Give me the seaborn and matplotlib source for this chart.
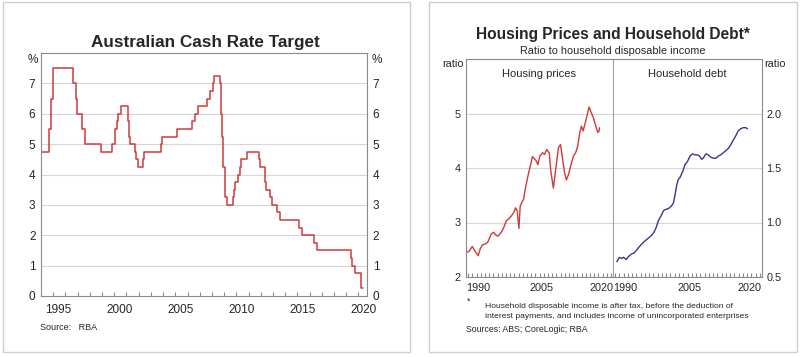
import pandas as pd
import numpy as np
from matplotlib import pyplot as plt
from matplotlib.patches import Rectangle
import seaborn as sns

# cash rate target: date of each change and the new rate
cash_dates = ['1994-01-01', '1994-08-17', '1994-10-24', '1994-12-14', '1996-07-31', '1996-11-06',
              '1996-12-11', '1997-05-23', '1997-07-30', '1998-12-02', '1999-11-03', '2000-02-02',
              '2000-04-05', '2000-05-03', '2000-08-02', '2001-02-07', '2001-03-07', '2001-04-04',
              '2001-09-05', '2001-10-03', '2001-12-05', '2002-05-08', '2002-06-05', '2003-11-05',
              '2003-12-03', '2005-03-02', '2006-05-03', '2006-08-02', '2006-11-08', '2007-08-08',
              '2007-11-07', '2008-02-06', '2008-03-05', '2008-09-03', '2008-10-08', '2008-11-05',
              '2008-12-03', '2009-02-04', '2009-04-08', '2009-10-07', '2009-11-04', '2009-12-02',
              '2010-03-03', '2010-04-07', '2010-05-05', '2010-11-03', '2011-11-02', '2011-12-07',
              '2012-05-02', '2012-06-06', '2012-10-03', '2012-12-05', '2013-05-08', '2013-08-07',
              '2015-02-04', '2015-05-06', '2016-05-04', '2016-08-03', '2019-06-05', '2019-07-03',
              '2019-10-02', '2020-03-04', '2020-03-20', '2020-05-06']
cash_rate = [4.75, 5.5, 6.5, 7.5, 7.0, 6.5,
             6.0, 5.5, 5.0, 4.75, 5.0, 5.5,
             5.75, 6.0, 6.25, 5.75, 5.25, 5.0,
             4.75, 4.5, 4.25, 4.5, 4.75, 5.0,
             5.25, 5.5, 5.75, 6.0, 6.25, 6.5,
             6.75, 7.0, 7.25, 7.0, 6.0, 5.25,
             4.25, 3.25, 3.0, 3.25, 3.5, 3.75,
             4.0, 4.25, 4.5, 4.75, 4.5, 4.25,
             3.75, 3.5, 3.25, 3.0, 2.75, 2.5,
             2.25, 2.0, 1.75, 1.5, 1.25, 1.0,
             0.75, 0.5, 0.25, 0.25]

# housing prices to disposable income
house_year = [1987.6, 1988.2, 1989.0, 1989.6, 1990.4, 1990.9, 1991.4, 1992.2, 1992.7, 1993.5,
              1994.1, 1994.6, 1995.1, 1995.9, 1996.5, 1997.1, 1997.7, 1998.3, 1998.9, 1999.3,
              1999.7, 2000.1, 2000.4, 2000.9, 2001.2, 2001.6, 2002.0, 2002.4, 2002.9, 2003.3,
              2003.9, 2004.3, 2004.6, 2005.1, 2005.7, 2006.2, 2006.7, 2007.3, 2007.7, 2008.3,
              2008.9, 2009.5, 2010.0, 2010.4, 2010.9, 2011.4, 2011.9, 2012.5, 2013.1, 2013.6,
              2014.1, 2014.6, 2015.0, 2015.4, 2015.8, 2016.4, 2016.8, 2017.3, 2017.8, 2018.4,
              2018.9, 2019.2, 2019.3]
house_ratio = [2.45, 2.47, 2.56, 2.48, 2.39, 2.52, 2.59, 2.61, 2.64, 2.79,
               2.82, 2.77, 2.75, 2.82, 2.91, 3.03, 3.07, 3.12, 3.19, 3.27,
               3.21, 2.89, 3.30, 3.39, 3.42, 3.61, 3.76, 3.91, 4.06, 4.21,
               4.16, 4.12, 4.06, 4.22, 4.28, 4.25, 4.34, 4.28, 3.94, 3.63,
               4.00, 4.37, 4.43, 4.22, 3.94, 3.78, 3.88, 4.06, 4.22, 4.28,
               4.40, 4.65, 4.77, 4.68, 4.80, 4.99, 5.12, 5.02, 4.93, 4.77,
               4.65, 4.68, 4.74]

# household debt to disposable income
debt_year = [1988.4, 1989.0, 1989.5, 1990.0, 1990.6, 1991.2, 1991.8, 1992.4, 1992.9, 1993.5,
             1994.2, 1994.7, 1995.3, 1995.9, 1996.5, 1997.1, 1997.6, 1998.2, 1998.9, 1999.4,
             1999.9, 2000.6, 2001.2, 2001.7, 2002.1, 2002.5, 2002.9, 2003.2, 2003.9, 2004.4,
             2005.0, 2005.6, 2006.2, 2006.8, 2007.3, 2007.8, 2008.3, 2008.7, 2009.3, 2009.9,
             2010.4, 2011.1, 2011.7, 2012.2, 2012.8, 2013.4, 2014.0, 2014.6, 2015.1, 2015.8,
             2016.4, 2016.9, 2017.5, 2018.1, 2018.7, 2019.1]
debt_ratio = [0.64, 0.68, 0.67, 0.68, 0.66, 0.69, 0.71, 0.72, 0.74, 0.77,
              0.80, 0.82, 0.84, 0.86, 0.88, 0.91, 0.95, 1.02, 1.07, 1.11,
              1.12, 1.13, 1.15, 1.18, 1.26, 1.35, 1.40, 1.41, 1.47, 1.53,
              1.56, 1.61, 1.63, 1.62, 1.62, 1.61, 1.58, 1.59, 1.63, 1.62,
              1.60, 1.59, 1.59, 1.61, 1.62, 1.64, 1.66, 1.68, 1.71, 1.76,
              1.80, 1.84, 1.86, 1.87, 1.87, 1.86]

cash_ticks = [0, 1, 2, 3, 4, 5, 6, 7]
cash_labels = ['1995', '2000', '2005', '2010', '2015', '2020']
house_ticks = [2, 3, 4, 5]
debt_ticks = [0.5, 1.0, 1.5, 2.0]
panel_labels = ['1990', '2005', '2020']

sns.set_style('white')
plt.rcParams['font.family'] = ['Liberation Sans', 'DejaVu Sans']

dates = pd.to_datetime(pd.Series(cash_dates))
cash = pd.DataFrame({'year': dates.dt.year + (dates.dt.dayofyear - 1) / 365.25, 'rate': cash_rate})
house = pd.DataFrame({'year': house_year, 'ratio': house_ratio})
debt = pd.DataFrame({'year': debt_year, 'ratio': debt_ratio})

W, H = 800, 357
fig = plt.figure(figsize=(W / 100, H / 100), dpi=100)
fig.patch.set_facecolor('white')


def box(x0, y0, x1, y1):
    return [x0 / W, 1 - y1 / H, (x1 - x0) / W, (y1 - y0) / H]


def ftext(x, y, s, **kw):
    fig.text(x / W, 1 - y / H, s, **kw)


# panel frames
for x0, x1 in [(3, 410), (429, 797)]:
    fig.patches.append(Rectangle((x0 / W, 1 - 352 / H), (x1 - x0) / W, 350 / H,
                                 transform=fig.transFigure, fill=False,
                                 edgecolor='#cfcfcf', lw=1))

spine_c = '#8a8a8a'
grid_c = '#d6d6d6'
red = '#cf3a3a'
blue = '#37378f'


def style(ax):
    for s in ax.spines.values():
        s.set_color(spine_c)
        s.set_linewidth(0.8)
    ax.tick_params(axis='x', which='major', direction='in', length=3, color=spine_c,
                   labelbottom=False, bottom=True)
    ax.tick_params(axis='x', which='minor', length=0, pad=6, labelsize=8, bottom=True)
    ax.tick_params(axis='y', length=0, labelsize=8)
    ax.grid(False)
    ax.set_xlabel('')
    ax.set_ylabel('')


# ---- left chart: cash rate ----
ax1 = fig.add_axes(box(41, 53, 367, 296))
sns.lineplot(data=cash, x='year', y='rate', ax=ax1, color=red, lw=1.1,
             drawstyle='steps-post', estimator=None)
ax1.set_xlim(1994.0, 2020.7)
ax1.set_ylim(0, 8)
style(ax1)
ax1.set_xticks(range(1995, 2021))
ax1.set_xticks([int(l) + 0.4 for l in cash_labels], minor=True)
ax1.set_xticklabels(cash_labels, minor=True, fontsize=8.5)
ax1.set_yticks(cash_ticks)
ax1.set_yticklabels([str(t) for t in cash_ticks], fontsize=8.5)
ax1.tick_params(axis='y', labelleft=True, labelright=True, pad=4)
for t in cash_ticks[1:]:
    ax1.axhline(t, color=grid_c, lw=0.8, zorder=0)
ftext(205, 43, 'Australian Cash Rate Target', ha='center', va='center',
      fontsize=12.3, fontweight='bold')
ftext(33, 60, '%', ha='center', va='center', fontsize=8.5)
ftext(377, 60, '%', ha='center', va='center', fontsize=8.5)
ftext(40, 328, 'Source:   RBA', ha='left', va='center', fontsize=6.5)

# ---- right chart: housing prices and household debt ----
ax2 = fig.add_axes(box(466, 59, 613, 277))
ax3 = fig.add_axes(box(613, 59, 762, 277))
sns.lineplot(data=house, x='year', y='ratio', ax=ax2, color=red, lw=1.0, estimator=None)
sns.lineplot(data=debt, x='year', y='ratio', ax=ax3, color=blue, lw=1.0, estimator=None)
for ax in (ax2, ax3):
    ax.set_xlim(1987.5, 2022.5)
    style(ax)
    ax.set_xticks(range(1988, 2023))
    ax.tick_params(axis='x', which='minor', pad=4)
ax2.set_ylim(2, 6)
ax3.set_ylim(0.5, 2.5)
# divider between the two panels
ax2.spines['right'].set_visible(False)
ax3.spines['left'].set_color('#a0a0a0')

ax2.set_xticks([2022.5, 1990.5, 2005.5], minor=True)
ax2.set_xticklabels(['2020', '1990', '2005'], minor=True, fontsize=7.8)
ax2.get_xticklabels(minor=True)[0].set_ha('right')
ax3.set_xticks([1987.5, 2005.5, 2019.6], minor=True)
ax3.set_xticklabels(['1990', '2005', '2020'], minor=True, fontsize=7.8)
ax3.get_xticklabels(minor=True)[0].set_ha('left')

ax2.set_yticks(house_ticks)
ax2.set_yticklabels([str(t) for t in house_ticks], fontsize=7.8)
ax2.tick_params(axis='y', pad=4)
ax3.set_yticks(debt_ticks)
ax3.set_yticklabels(['%.1f' % t for t in debt_ticks], fontsize=7.8)
ax3.tick_params(axis='y', labelleft=False, labelright=True, pad=3)
for t in house_ticks[1:]:
    ax2.axhline(t, color=grid_c, lw=0.8, zorder=0)
for t in debt_ticks[1:]:
    ax3.axhline(t, color=grid_c, lw=0.8, zorder=0)

ax2.text(0.5, 0.93, 'Housing prices', transform=ax2.transAxes, ha='center', va='center', fontsize=8)
ax3.text(0.5, 0.93, 'Household debt', transform=ax3.transAxes, ha='center', va='center', fontsize=8)

ftext(613, 35, 'Housing Prices and Household Debt*', ha='center', va='center',
      fontsize=11.2, fontweight='bold')
ftext(613, 51, 'Ratio to household disposable income', ha='center', va='center', fontsize=7.8)
ftext(453, 64, 'ratio', ha='center', va='center', fontsize=7.8)
ftext(775, 64, 'ratio', ha='center', va='center', fontsize=7.8)
ftext(467, 301, '*', ha='left', va='center', fontsize=6.3)
ftext(485, 306, 'Household disposable income is after tax, before the deduction of',
      ha='left', va='center', fontsize=6.1)
ftext(485, 316, 'interest payments, and includes income of unincorporated enterprises',
      ha='left', va='center', fontsize=6.1)
ftext(466, 330, 'Sources: ABS; CoreLogic; RBA', ha='left', va='center', fontsize=6.3)

fig.savefig('out.png', dpi=100, facecolor='white')
